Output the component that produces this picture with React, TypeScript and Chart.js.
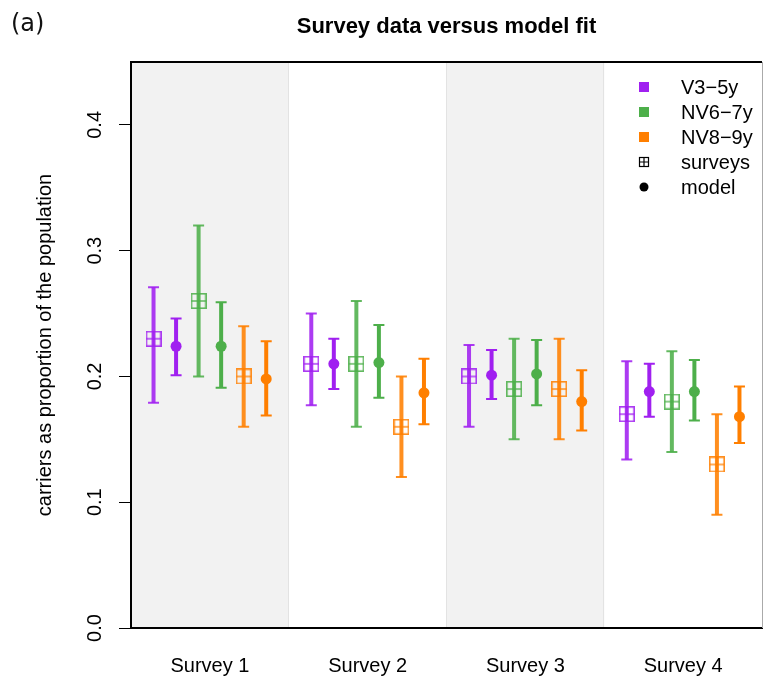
import React, { useEffect, useRef } from 'react';
import { Chart, registerables } from 'chart.js';

Chart.register(...registerables);

const surveys = ['Survey 1', 'Survey 2', 'Survey 3', 'Survey 4'];
const groups = ['V3\u22125y', 'NV6\u22127y', 'NV8\u22129y'];
const groupColors = ['#A020F0', '#4DAF4A', '#FF7F00'];
const surveyAlpha = 'E0';

const yTicks = [0, 0.1, 0.2, 0.3, 0.4];
const yTickLabels = ['0.0', '0.1', '0.2', '0.3', '0.4'];

// V3-5y
const surveyV = [0.23, 0.21, 0.2, 0.17];
const surveyVLow = [0.179, 0.177, 0.16, 0.134];
const surveyVHigh = [0.271, 0.25, 0.225, 0.212];
const modelV = [0.224, 0.21, 0.201, 0.188];
const modelVLow = [0.201, 0.19, 0.182, 0.168];
const modelVHigh = [0.246, 0.23, 0.221, 0.21];

// NV6-7y
const surveyG = [0.26, 0.21, 0.19, 0.18];
const surveyGLow = [0.2, 0.16, 0.15, 0.14];
const surveyGHigh = [0.32, 0.26, 0.23, 0.22];
const modelG = [0.224, 0.211, 0.202, 0.188];
const modelGLow = [0.191, 0.183, 0.177, 0.165];
const modelGHigh = [0.259, 0.241, 0.229, 0.213];

// NV8-9y
const surveyO = [0.2, 0.16, 0.19, 0.13];
const surveyOLow = [0.16, 0.12, 0.15, 0.09];
const surveyOHigh = [0.24, 0.2, 0.23, 0.17];
const modelO = [0.198, 0.187, 0.18, 0.168];
const modelOLow = [0.169, 0.162, 0.157, 0.147];
const modelOHigh = [0.228, 0.214, 0.205, 0.192];

const surveyVals = [surveyV, surveyG, surveyO];
const surveyLows = [surveyVLow, surveyGLow, surveyOLow];
const surveyHighs = [surveyVHigh, surveyGHigh, surveyOHigh];
const modelVals = [modelV, modelG, modelO];
const modelLows = [modelVLow, modelGLow, modelOLow];
const modelHighs = [modelVHigh, modelGHigh, modelOHigh];

const FONT = "'Liberation Sans', Arial, Helvetica, sans-serif";

function makeSquarePlus(color: string, size: number, lw: number) {
  const c = document.createElement('canvas');
  c.width = size;
  c.height = size;
  const g = c.getContext('2d')!;
  g.strokeStyle = color;
  g.lineWidth = lw;
  const h = lw / 2;
  g.strokeRect(h, h, size - lw, size - lw);
  g.beginPath();
  g.moveTo(size / 2, h);
  g.lineTo(size / 2, size - h);
  g.moveTo(h, size / 2);
  g.lineTo(size - h, size / 2);
  g.stroke();
  return c;
}

const backgroundPlugin = {
  id: 'panelBg',
  beforeDraw(chart: any) {
    const { ctx, chartArea } = chart;
    const x = chart.scales.x;
    ctx.save();
    surveys.forEach((_, k) => {
      if (k % 2 === 0) {
        const l = x.getPixelForValue(k);
        const r = x.getPixelForValue(k + 1);
        ctx.fillStyle = '#F2F2F2';
        ctx.fillRect(l, chartArea.top, r - l, chartArea.bottom - chartArea.top);
      }
    });
    ctx.strokeStyle = '#E3E3E3';
    ctx.lineWidth = 1;
    for (let k = 1; k < surveys.length; k++) {
      const p = Math.round(x.getPixelForValue(k)) - 0.5;
      ctx.beginPath();
      ctx.moveTo(p, chartArea.top);
      ctx.lineTo(p, chartArea.bottom);
      ctx.stroke();
    }
    ctx.restore();
  },
};

const errorBarPlugin = {
  id: 'errorBars',
  beforeDatasetsDraw(chart: any) {
    const { ctx } = chart;
    const y = chart.scales.y;
    chart.data.datasets.forEach((ds: any, di: number) => {
      const meta = chart.getDatasetMeta(di);
      meta.data.forEach((pt: any, i: number) => {
        const lo = y.getPixelForValue(ds.low[i]);
        const hi = y.getPixelForValue(ds.high[i]);
        const px = pt.x;
        ctx.save();
        ctx.strokeStyle = ds.barColor;
        ctx.lineWidth = 4;
        ctx.beginPath();
        ctx.moveTo(px, lo);
        ctx.lineTo(px, hi);
        ctx.stroke();
        ctx.lineWidth = 2;
        ctx.beginPath();
        ctx.moveTo(px - 5.5, lo);
        ctx.lineTo(px + 5.5, lo);
        ctx.moveTo(px - 5.5, hi);
        ctx.lineTo(px + 5.5, hi);
        ctx.stroke();
        ctx.restore();
      });
    });
  },
};

const decorPlugin = {
  id: 'decor',
  afterDraw(chart: any) {
    const { ctx, chartArea } = chart;
    ctx.save();
    // top frame line and right edge
    ctx.strokeStyle = '#000';
    ctx.lineWidth = 2;
    ctx.beginPath();
    ctx.moveTo(chartArea.left - 1, chartArea.top);
    ctx.lineTo(chartArea.right, chartArea.top);
    ctx.stroke();
    ctx.strokeStyle = '#AAAAAA';
    ctx.lineWidth = 1;
    ctx.beginPath();
    ctx.moveTo(chartArea.right + 0.5, chartArea.top);
    ctx.lineTo(chartArea.right + 0.5, chartArea.bottom);
    ctx.stroke();

    // title
    ctx.fillStyle = '#000';
    ctx.font = `bold 22px ${FONT}`;
    ctx.textAlign = 'center';
    ctx.textBaseline = 'alphabetic';
    ctx.fillText('Survey data versus model fit', (chartArea.left + chartArea.right) / 2, 33);

    // panel tag
    ctx.font = `24px 'DejaVu Sans', sans-serif`;
    ctx.textAlign = 'left';
    ctx.fillStyle = '#111';
    ctx.fillText('(a)', 11, 31);

    // legend
    const mx = chartArea.right - 118;
    const tx = chartArea.right - 81;
    const rowY = (i: number) => chartArea.top + 25 + 25 * i;
    ctx.font = `20px ${FONT}`;
    ctx.textBaseline = 'middle';
    groups.forEach((g, i) => {
      ctx.fillStyle = groupColors[i];
      ctx.fillRect(mx - 5, rowY(i) - 5, 10, 10);
      ctx.fillStyle = '#000';
      ctx.fillText(g, tx, rowY(i) + 1);
    });
    // surveys symbol
    const sy = rowY(3);
    ctx.strokeStyle = '#000';
    ctx.lineWidth = 1.2;
    ctx.strokeRect(mx - 4.5, sy - 4.5, 9, 9);
    ctx.beginPath();
    ctx.moveTo(mx, sy - 4.5);
    ctx.lineTo(mx, sy + 4.5);
    ctx.moveTo(mx - 4.5, sy);
    ctx.lineTo(mx + 4.5, sy);
    ctx.stroke();
    ctx.fillStyle = '#000';
    ctx.fillText('surveys', tx, sy + 1);
    const my = rowY(4);
    ctx.beginPath();
    ctx.arc(mx, my, 4.5, 0, Math.PI * 2);
    ctx.fill();
    ctx.fillText('model', tx, my + 1);
    ctx.restore();
  },
};

export default function App() {
  const ref = useRef<HTMLCanvasElement>(null);

  useEffect(() => {
    if (!ref.current) return;
    const datasets: any[] = [];
    groups.forEach((g, gi) => {
      const sc = groupColors[gi] + surveyAlpha;
      datasets.push({
        label: g + ' survey',
        data: surveys.map((_, k) => ({ x: k + (2 * gi + 1) / 7, y: surveyVals[gi][k] })),
        low: surveyLows[gi],
        high: surveyHighs[gi],
        barColor: sc,
        pointStyle: makeSquarePlus(sc, 16, 1.6),
        pointRadius: 8,
        borderWidth: 0,
        showLine: false,
      });
      datasets.push({
        label: g + ' model',
        data: surveys.map((_, k) => ({ x: k + (2 * gi + 2) / 7, y: modelVals[gi][k] })),
        low: modelLows[gi],
        high: modelHighs[gi],
        barColor: groupColors[gi],
        pointStyle: 'circle',
        pointRadius: 5.5,
        backgroundColor: groupColors[gi],
        borderColor: groupColors[gi],
        borderWidth: 0,
        showLine: false,
      });
    });

    const chart = new Chart(ref.current, {
      type: 'scatter',
      data: { datasets },
      plugins: [backgroundPlugin, errorBarPlugin, decorPlugin],
      options: {
        animation: false,
        responsive: false,
        maintainAspectRatio: false,
        layout: { autoPadding: false, padding: { top: 62, right: 1, left: 0, bottom: 0 } },
        plugins: {
          legend: { display: false },
          title: { display: false },
          tooltip: { enabled: false },
        },
        scales: {
          x: {
            type: 'linear',
            min: 0,
            max: surveys.length,
            afterBuildTicks: (s: any) => {
              s.ticks = surveys.map((_, i) => ({ value: i + 0.5 }));
            },
            afterFit: (s: any) => {
              s.height = 50;
              s.paddingLeft = 0;
              s.paddingRight = 0;
            },
            grid: { display: false, drawTicks: false },
            border: { display: true, color: '#000', width: 2 },
            ticks: {
              autoSkip: false,
              maxRotation: 0,
              minRotation: 0,
              padding: 26,
              color: '#000',
              font: { family: FONT, size: 20 },
              callback: (_v: any, i: number) => surveys[i],
            },
          },
          y: {
            type: 'linear',
            min: 0,
            max: 0.45,
            afterBuildTicks: (s: any) => {
              s.ticks = yTicks.map((v) => ({ value: v }));
            },
            afterFit: (s: any) => {
              s.width = 131;
              s.paddingTop = 0;
              s.paddingBottom = 0;
            },
            grid: {
              drawOnChartArea: false,
              drawTicks: true,
              tickLength: 12,
              color: '#000',
              lineWidth: 1,
            },
            border: { display: true, color: '#000', width: 2 },
            ticks: {
              minRotation: 90,
              maxRotation: 90,
              crossAlign: 'center',
              padding: 10,
              color: '#000',
              font: { family: FONT, size: 20 },
              callback: (_v: any, i: number) => yTickLabels[i],
            },
            title: {
              display: true,
              text: 'carriers as proportion of the population',
              color: '#000',
              font: { family: FONT, size: 20 },
              padding: { top: 33, bottom: 0 },
            },
          },
        },
      } as any,
    });
    return () => chart.destroy();
  }, []);

  return (
    <div style={{ position: 'absolute', left: 0, top: 0, width: 763, height: 678, background: '#fff' }}>
      <canvas ref={ref} width={763} height={678} style={{ display: 'block', width: 763, height: 678 }} />
    </div>
  );
}
